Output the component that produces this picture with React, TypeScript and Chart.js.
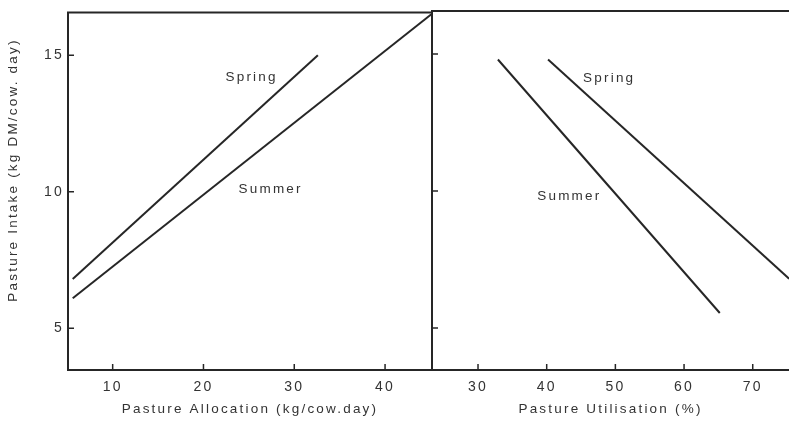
import React, { useEffect, useRef } from 'react';
import { Chart, registerables } from 'chart.js';

Chart.register(...registerables);

// ---- data ----
const yTicks = [5, 10, 15];
const allocTicks = [10, 20, 30, 40];
const utilTicks = [30, 40, 50, 60, 70];

const allocSpringX = [5.6, 32.6];
const allocSpringY = [6.8, 15.0];
const allocSummerX = [5.6, 45.1];
const allocSummerY = [6.1, 16.5];

const utilSpringX = [40.2, 75.3];
const utilSpringY = [14.8, 6.8];
const utilSummerX = [32.9, 65.2];
const utilSummerY = [14.8, 5.55];

const allocLabels = ['Spring', 'Summer'];
const allocLabelX = [25.3, 27.4];
const allocLabelY = [14.2, 10.1];
const utilLabels = ['Spring', 'Summer'];
const utilLabelX = [49.1, 43.3];
const utilLabelY = [14.1, 9.8];

const yTitle = 'Pasture Intake (kg DM/cow. day)';
const allocTitle = 'Pasture Allocation (kg/cow.day)';
const utilTitle = 'Pasture Utilisation (%)';

const FONT = '"Liberation Sans", Arial, Helvetica, sans-serif';
const INK = '#262626';
const TEXT = '#333333';

const pts = (xs: number[], ys: number[]) => xs.map((x, i) => ({ x, y: ys[i] }));

type DecorCfg = {
  sides: { top: boolean; left: boolean; bottom: boolean; right: boolean };
  xTicks: number[];
  labels: string[];
  labelX: number[];
  labelY: number[];
  yTitle?: { text: string; x: number; y: number };
};

function makeDecor(cfg: DecorCfg) {
  return {
    id: 'decor',
    beforeDraw(chart: any) {
      chart.ctx.letterSpacing = '2.2px';
    },
    afterDraw(chart: any) {
      const ctx = chart.ctx;
      const { left, right, top, bottom } = chart.chartArea;
      const xs = chart.scales.x;
      const ys = chart.scales.y;
      ctx.save();
      ctx.strokeStyle = INK;
      ctx.lineWidth = 2;
      ctx.lineCap = 'square';
      ctx.beginPath();
      if (cfg.sides.top) { ctx.moveTo(left, top); ctx.lineTo(right, top); }
      if (cfg.sides.left) { ctx.moveTo(left, top); ctx.lineTo(left, bottom); }
      if (cfg.sides.bottom) { ctx.moveTo(left, bottom); ctx.lineTo(right, bottom); }
      if (cfg.sides.right) { ctx.moveTo(right, top); ctx.lineTo(right, bottom); }
      ctx.stroke();
      // inward ticks
      ctx.lineWidth = 1.5;
      ctx.lineCap = 'butt';
      ctx.beginPath();
      cfg.xTicks.forEach((v) => {
        const px = xs.getPixelForValue(v);
        ctx.moveTo(px, bottom);
        ctx.lineTo(px, bottom - 6);
      });
      yTicks.forEach((v) => {
        const py = ys.getPixelForValue(v);
        ctx.moveTo(left, py);
        ctx.lineTo(left + 6, py);
      });
      ctx.stroke();
      // series labels
      ctx.fillStyle = TEXT;
      ctx.font = `13.5px ${FONT}`;
      ctx.letterSpacing = '2.2px';
      ctx.textAlign = 'center';
      ctx.textBaseline = 'middle';
      cfg.labels.forEach((t, i) => {
        ctx.fillText(t, xs.getPixelForValue(cfg.labelX[i]), ys.getPixelForValue(cfg.labelY[i]));
      });
      if (cfg.yTitle) {
        ctx.translate(cfg.yTitle.x, cfg.yTitle.y);
        ctx.rotate(-Math.PI / 2);
        ctx.fillText(cfg.yTitle.text, 0, 0);
      }
      ctx.restore();
    },
  };
}

function baseOptions(xMin: number, xMax: number, xTickVals: number[], title: string, showY: boolean, padding: any) {
  return {
    responsive: false,
    animation: false,
    devicePixelRatio: 1,
    layout: { padding },
    plugins: { legend: { display: false }, tooltip: { enabled: false } },
    scales: {
      x: {
        type: 'linear',
        min: xMin,
        max: xMax,
        afterBuildTicks: (s: any) => { s.ticks = xTickVals.map((value) => ({ value })); },
        afterFit: (s: any) => { s.height = 54; },
        grid: { display: false, drawTicks: false },
        border: { display: false },
        ticks: { autoSkip: false, maxRotation: 0, padding: 9, color: TEXT, font: { family: FONT, size: 14 } },
        title: { display: true, text: title, color: TEXT, padding: { top: 0, bottom: 7 }, font: { family: FONT, size: 13.5 } },
      },
      y: {
        type: 'linear',
        display: showY,
        min: 3.47,
        max: 16.57,
        afterBuildTicks: (s: any) => { s.ticks = yTicks.map((value) => ({ value })); },
        afterFit: (s: any) => { s.width = showY ? 68 : 0; },
        grid: { display: false, drawTicks: false },
        border: { display: false },
        ticks: { padding: 4, color: TEXT, font: { family: FONT, size: 14 } },
      },
    },
  };
}

function lineDs(data: { x: number; y: number }[]) {
  return {
    data,
    showLine: true,
    borderColor: INK,
    borderWidth: 2,
    pointRadius: 0,
    fill: false,
  };
}

export default function App() {
  const leftRef = useRef<HTMLCanvasElement>(null);
  const rightRef = useRef<HTMLCanvasElement>(null);

  useEffect(() => {
    const left = new Chart(leftRef.current as HTMLCanvasElement, {
      type: 'scatter',
      data: {
        datasets: [lineDs(pts(allocSpringX, allocSpringY)), lineDs(pts(allocSummerX, allocSummerY))],
      },
      options: baseOptions(5.08, 45.17, allocTicks, allocTitle, true, { left: 0, top: 11, right: 8, bottom: 0 }) as any,
      plugins: [
        makeDecor({
          sides: { top: true, left: true, bottom: true, right: true },
          xTicks: allocTicks,
          labels: allocLabels,
          labelX: allocLabelX,
          labelY: allocLabelY,
          yTitle: { text: yTitle, x: 13, y: 170 },
        }),
      ],
    });
    const right = new Chart(rightRef.current as HTMLCanvasElement, {
      type: 'scatter',
      data: {
        datasets: [lineDs(pts(utilSpringX, utilSpringY)), lineDs(pts(utilSummerX, utilSummerY))],
      },
      options: baseOptions(23.3, 75.28, utilTicks, utilTitle, false, { left: 12, top: 11, right: 0, bottom: 0 }) as any,
      plugins: [
        makeDecor({
          sides: { top: true, left: false, bottom: true, right: false },
          xTicks: utilTicks,
          labels: utilLabels,
          labelX: utilLabelX,
          labelY: utilLabelY,
        }),
      ],
    });
    return () => {
      left.destroy();
      right.destroy();
    };
  }, []);

  return (
    <div style={{ position: 'fixed', left: 0, top: 0, width: 789, height: 424, background: '#fff', overflow: 'hidden' }}>
      <canvas ref={leftRef} width={440} height={424} style={{ position: 'absolute', left: 0, top: 0, width: 440, height: 424 }} />
      <canvas ref={rightRef} width={369} height={424} style={{ position: 'absolute', left: 420, top: 0, width: 369, height: 424 }} />
    </div>
  );
}
